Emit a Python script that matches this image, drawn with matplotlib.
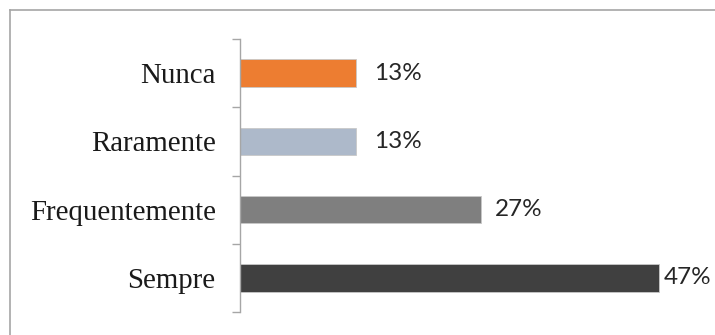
import matplotlib
matplotlib.use("Agg")
import matplotlib.pyplot as plt
from matplotlib.lines import Line2D
import numpy as np

# --- DATA ---
categories = ["Nunca", "Raramente", "Frequentemente", "Sempre"]
percentages = [13, 13, 27, 47]
bar_colors = ["#ED7D31", "#ADB9CA", "#7F7F7F", "#404040"]
label_gaps = [18, 18, 14, 4]  # pixels between bar end and value text

W, H = 715, 335
fig = plt.figure(figsize=(W / 100, H / 100), dpi=100)
fig.patch.set_facecolor("white")

# chart area frame (only top and left edges fall inside the picture)
frame_color = "#A6A6A6"
fig.add_artist(Line2D([10 / W, 10 / W], [0, 1 - 10 / H], transform=fig.transFigure,
                      color=frame_color, lw=1.2))
fig.add_artist(Line2D([10 / W, 1], [1 - 10 / H, 1 - 10 / H], transform=fig.transFigure,
                      color=frame_color, lw=1.2))

ax = fig.add_axes([240 / W, 23 / H, 460 / W, 273 / H])

y = np.arange(len(categories))
ax.barh(y, percentages, height=0.4, color=bar_colors,
        edgecolor="#C8C8C8", linewidth=0.6)

ax.set_ylim(len(categories) - 0.5, -0.5)
ax.set_xlim(0, 460 / 8.92)

# value labels
for yi, v, gap in zip(y, percentages, label_gaps):
    ax.annotate(f"{v}%", xy=(v, yi), xytext=(gap * 0.72, 0), textcoords="offset points",
                ha="left", va="center", fontsize=17.5, family="Lato", color="#262626")

# category axis: labels at centres, ticks on the band boundaries
ax.set_yticks(y)
ax.set_yticklabels(categories, family="Liberation Serif", fontsize=20.8, color="#1a1a1a")
ax.tick_params(axis="y", which="major", length=0, pad=17.5)
ax.set_yticks(np.arange(len(categories) + 1) - 0.5, minor=True)
ax.tick_params(axis="y", which="minor", length=6, width=1, color="#A6A6A6", direction="out")

ax.set_xticks([])
for side in ["top", "right", "bottom"]:
    ax.spines[side].set_visible(False)
ax.spines["left"].set_color("#A6A6A6")
ax.spines["left"].set_linewidth(1)

fig.savefig("out.png", dpi=100, facecolor="white")
